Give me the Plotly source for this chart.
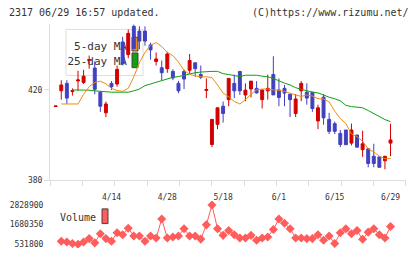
import plotly.graph_objects as go

# ---- data ----
# trading days 2020-03-31 .. 2020-06-29 (index 0..60)
tick_idx = [10, 20, 30, 40, 50, 60]
tick_labels = ["4/14", "4/28", "5/18", "6/1", "6/15", "6/29"]

open_ = [412.7, 419.6, 422.9, 419.3, 424.0, 423.3, 433.0, 429.7, 419.0, 409.9,
         422.9, 422.6, 441.2, 435.6, 448.1, 446.0, 446.0, 439.9, 432.6, 429.8,
         429.4, 428.2, 422.9, 428.2, 428.7, 432.0, 426.8, 419.8, 395.9, 404.8,
         412.8, 415.7, 422.9, 428.2, 417.8, 420.4, 420.7, 415.7, 419.6, 426.8,
         420.0, 420.7, 418.1, 409.6, 419.6, 419.0, 419.0, 406.3, 416.8, 407.0,
         405.1, 400.8, 402.3, 396.5, 400.1, 393.6, 394.0, 390.7, 390.4, 388.7,
         396.5]
high = [412.9, 424.3, 424.3, 420.7, 428.5, 428.9, 435.2, 432.6, 419.5, 414.9,
        423.9, 430.8, 443.5, 446.7, 448.9, 448.1, 448.1, 440.9, 436.6, 433.0,
        436.9, 429.1, 424.0, 429.1, 435.9, 432.0, 430.8, 425.1, 407.0, 412.1,
        414.9, 425.1, 426.8, 428.2, 422.9, 423.9, 423.9, 420.0, 426.8, 434.9,
        425.1, 422.2, 418.1, 418.1, 423.9, 422.9, 419.0, 413.5, 418.1, 409.9,
        406.0, 402.3, 402.3, 405.1, 400.1, 402.0, 394.0, 396.2, 390.4, 390.7,
        405.1]
low = [412.7, 415.7, 413.8, 417.5, 419.6, 422.6, 429.4, 418.1, 410.3, 408.0,
       420.0, 421.4, 430.8, 434.0, 438.0, 438.0, 439.5, 433.4, 430.8, 424.3,
       427.6, 424.3, 418.6, 420.4, 427.2, 425.8, 424.8, 416.4, 394.7, 402.7,
       405.6, 412.8, 416.4, 417.8, 415.0, 416.7, 418.4, 411.8, 415.7, 417.8,
       412.8, 412.8, 408.0, 408.0, 415.0, 413.5, 410.3, 402.7, 404.6, 400.5,
       400.5, 394.7, 395.8, 395.5, 394.7, 390.4, 385.8, 385.8, 385.8, 384.9,
       390.7]
close = [412.9, 422.2, 416.4, 419.7, 424.4, 426.1, 433.4, 420.3, 412.8, 413.8,
         421.4, 429.1, 431.5, 445.0, 438.3, 441.6, 441.6, 437.7, 433.7, 427.6,
         435.9, 425.3, 419.6, 424.8, 433.0, 429.4, 425.6, 420.2, 407.0, 412.1,
         409.6, 425.1, 419.6, 419.6, 419.9, 423.9, 418.7, 420.0, 420.7, 417.8,
         416.7, 418.6, 415.7, 416.0, 422.9, 416.4, 411.8, 412.1, 407.7, 401.7,
         401.7, 395.9, 395.8, 402.3, 394.7, 396.2, 387.5, 387.5, 385.8, 390.7,
         397.9]

ma5 = [None, 413.8, 413.8, 413.8, 413.8, 418.1, 421.4, 423.3, 423.9, 422.7,
       420.7, 419.7, 419.4, 420.7, 425.8, 432.0, 436.6, 439.8, 440.9, 439.2,
       436.6, 435.2, 432.3, 428.7, 426.9, 426.2, 425.8, 425.8, 425.5, 422.2,
       418.6, 417.0, 414.9, 413.8, 415.7, 418.1, 420.0, 420.4, 420.4, 420.0,
       419.9, 419.3, 418.7, 417.8, 417.1, 417.8, 417.3, 416.1, 416.0, 414.7,
       410.6, 407.4, 405.1, 400.5, 399.4, 397.3, 394.0, 392.6, 390.7, 389.6,
       389.7]
ma25 = [None, None, None, 420.0, 420.0, 420.0, 419.9, 419.6, 419.3, 419.3,
        419.0, 419.0, 419.0, 419.0, 419.6, 420.4, 421.9, 422.7, 423.3, 424.2,
        425.1, 425.6, 425.9, 426.5, 427.2, 427.6, 427.9, 428.2, 428.2, 428.2,
        427.2, 426.8, 426.5, 425.9, 426.5, 426.5, 426.5, 426.1, 425.8, 425.1,
        424.0, 423.0, 422.2, 421.0, 420.3, 419.6, 419.0, 418.7, 417.7, 416.8,
        416.1, 415.2, 413.2, 412.6, 412.4, 412.1, 410.9, 409.5, 408.0, 406.9,
        406.0]
volume = [None, 704000, 664000, 572000, 531800, 664000, 859000, 609000, 1146000, 859000,
          704000, 1203000, 1089000, 1468000, 1008000, 1008000, 704000, 1008000, 893000, 2007000,
          893000, 951000, 1008000, 1433000, 1008000, 1008000, 830000, 1663000, 2828900, 1433000,
          1049000, 1336000, 1089000, 893000, 893000, 1049000, 761000, 893000, 951000, 1393000,
          2007000, 1755000, 1433000, 893000, 893000, 859000, 859000, 1089000, 761000, 1008000,
          572000, 1203000, 1433000, 1146000, 1336000, 819000, 1238000, 1433000, 1089000, 893000,
          1565000]
vol_ticks = [531800, 1680350, 2828900]
price_ticks = [380, 420]

idx = list(range(len(close)))

# ---- styling ----
W, H = 420, 259
FONT = "DejaVu Sans Mono"
TXT = "#333333"
UP = "#d40000"
DOWN = "#4040c0"
ORANGE = "#f08c10"
GREEN = "#10a010"
VOLC = "#ff5c5c"
AXC = "#dddddd"


def px(x):
    return x / W


def py(y):
    return 1 - y / H


fig = go.Figure()

fig.add_trace(go.Scatter(x=idx, y=ma25, mode="lines", line=dict(color=GREEN, width=1),
                         xaxis="x", yaxis="y", showlegend=False, hoverinfo="skip"))
fig.add_trace(go.Scatter(x=idx, y=ma5, mode="lines", line=dict(color=ORANGE, width=1),
                         xaxis="x", yaxis="y", showlegend=False, hoverinfo="skip"))
fig.add_trace(go.Candlestick(
    x=idx, open=open_, high=high, low=low, close=close,
    increasing=dict(line=dict(color=UP, width=1), fillcolor=UP),
    decreasing=dict(line=dict(color=DOWN, width=1), fillcolor=DOWN),
    whiskerwidth=0, xaxis="x", yaxis="y", showlegend=False))
fig.add_trace(go.Scatter(x=idx, y=volume, mode="lines+markers",
                         line=dict(color=VOLC, width=1),
                         marker=dict(symbol="diamond", size=7, color=VOLC),
                         xaxis="x2", yaxis="y2", showlegend=False))

x_dom = [px(50), px(405.7)]
x_rng = [-1.02, 62.72]

fig.update_layout(
    width=W, height=H, autosize=False,
    margin=dict(l=0, r=0, t=0, b=0),
    paper_bgcolor="white", plot_bgcolor="rgba(0,0,0,0)",
    boxgap=0.25,
    font=dict(family=FONT, size=8, color=TXT),
    xaxis=dict(domain=x_dom, range=x_rng, anchor="y",
               showline=True, linecolor=AXC, linewidth=1,
               tickmode="array", tickvals=tick_idx, ticktext=tick_labels,
               ticks="outside", ticklen=9, tickcolor="rgba(0,0,0,0)",
               tickfont=dict(family=FONT, size=8, color=TXT),
               minor=dict(tick0=-1.02, dtick=5.795, ticks="outside", ticklen=5,
                          tickcolor=AXC, tickwidth=1, showgrid=False),
               showgrid=False, zeroline=False,
               rangeslider=dict(visible=False), fixedrange=True),
    yaxis=dict(domain=[py(184), py(24.8)], range=[380, 449], anchor="x",
               showline=True, linecolor=AXC, linewidth=1,
               tickmode="array", tickvals=price_ticks,
               ticktext=[str(v) for v in price_ticks],
               ticks="outside", ticklen=5, tickcolor=AXC,
               tickfont=dict(family=FONT, size=8, color=TXT),
               showgrid=False, zeroline=False, fixedrange=True),
    xaxis2=dict(domain=x_dom, range=x_rng, anchor="y2", matches="x",
                visible=False),
    yaxis2=dict(domain=[py(253), py(205)], range=[302090, 3058610], anchor="x2",
                showline=False, tickmode="array", tickvals=vol_ticks,
                ticktext=[str(v) for v in vol_ticks],
                ticks="outside", ticklen=4, tickcolor="rgba(0,0,0,0)",
                tickfont=dict(family=FONT, size=8, color=TXT),
                showgrid=False, zeroline=False, fixedrange=True),
)

# price legend (drawn below the candles)
shapes = [
    dict(type="rect", xref="paper", yref="paper", layer="below",
         x0=px(66), x1=px(143), y0=py(77), y1=py(30),
         fillcolor="white", line=dict(color=AXC, width=1)),
    dict(type="rect", xref="paper", yref="paper", layer="below",
         x0=px(132), x1=px(138), y0=py(52), y1=py(38),
         fillcolor=ORANGE, line=dict(color="#444444", width=1)),
    dict(type="rect", xref="paper", yref="paper", layer="below",
         x0=px(132), x1=px(138), y0=py(69), y1=py(54),
         fillcolor=GREEN, line=dict(color="#444444", width=1)),
    dict(type="rect", xref="paper", yref="paper", layer="below",
         x0=px(66), x1=px(133), y0=py(53), y1=py(39),
         fillcolor="rgba(0,0,0,0)", line=dict(width=0),
         label=dict(text="5-day MA", textposition="middle right",
                    font=dict(family=FONT, size=11, color=TXT), padding=3)),
    dict(type="rect", xref="paper", yref="paper", layer="below",
         x0=px(66), x1=px(133), y0=py(69), y1=py(55),
         fillcolor="rgba(0,0,0,0)", line=dict(width=0),
         label=dict(text="25-day MA", textposition="middle right",
                    font=dict(family=FONT, size=11, color=TXT), padding=3)),
    # volume legend swatch
    dict(type="rect", xref="paper", yref="paper",
         x0=px(102), x1=px(108), y0=py(228), y1=py(213),
         fillcolor=VOLC, line=dict(color="#444444", width=1)),
]
fig.update_layout(shapes=shapes)

fig.add_annotation(text="2317 06/29 16:57 updated.", xref="paper", yref="paper",
                   x=px(7), y=py(13), xanchor="left", yanchor="middle", showarrow=False,
                   font=dict(family=FONT, size=10, color=TXT))
fig.add_annotation(text="(C)https://www.rizumu.net/", xref="paper", yref="paper",
                   x=px(411), y=py(13), xanchor="right", yanchor="middle", showarrow=False,
                   font=dict(family=FONT, size=10, color=TXT))
fig.add_annotation(text="Volume", xref="paper", yref="paper",
                   x=px(58), y=py(222), xanchor="left", yanchor="middle", showarrow=False,
                   font=dict(family=FONT, size=10, color=TXT))

fig.write_html("out.html")
